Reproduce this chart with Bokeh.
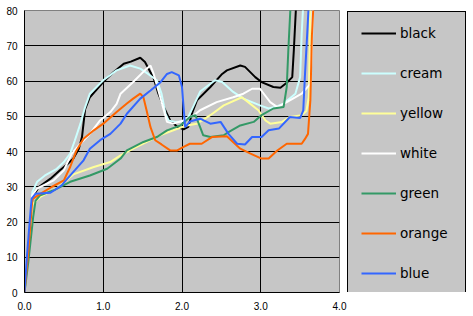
from bokeh.plotting import figure
from bokeh.layouts import row
from bokeh.models import Range1d, FixedTicker, PrintfTickFormatter, Legend, LegendItem
from bokeh.embed import file_html
from bokeh.resources import INLINE

# ---- data ----
black_x = [0, 0.05, 0.1, 0.18, 0.33, 0.45, 0.55, 0.62, 0.69, 0.73, 0.77, 0.83, 1.0, 1.13, 1.26, 1.35, 1.47, 1.53, 1.64, 1.70, 1.77, 1.85, 1.94, 2.02, 2.08, 2.13, 2.19, 2.36, 2.51, 2.57, 2.74, 2.80, 2.93, 3.01, 3.16, 3.25, 3.33, 3.40, 3.42, 3.45]
black_y = [0, 13, 27, 29.9, 32.3, 34.7, 36.5, 38, 40.8, 44.1, 52, 55.4, 59.7, 62.5, 64.9, 65.5, 66.6, 65.4, 60.8, 56.4, 52.6, 48.8, 47, 46.3, 47, 51, 54.5, 58.3, 62, 63, 64.4, 64, 61.1, 59.7, 58.3, 58.1, 59.5, 61.1, 68.7, 82]

cream_x = [0, 0.05, 0.1, 0.16, 0.26, 0.41, 0.50, 0.58, 0.64, 0.71, 0.77, 0.83, 1.0, 1.17, 1.34, 1.47, 1.57, 1.68, 1.74, 1.79, 1.83, 1.91, 2.0, 2.08, 2.15, 2.23, 2.42, 2.51, 2.65, 2.78, 2.99, 3.10, 3.18, 3.29, 3.44, 3.50, 3.52, 3.54]
cream_y = [0, 14, 28.5, 31.4, 33.2, 35.1, 37, 39.4, 43.2, 47.9, 52.6, 56.4, 60.2, 63, 64.4, 63.5, 62, 60.2, 56.4, 50.7, 48.8, 48.4, 48.5, 49.8, 53.1, 57, 60.2, 59.7, 56.9, 55, 53.1, 52.2, 52.6, 53.6, 56.4, 61.1, 73.4, 82]

yellow_x = [0, 0.05, 0.1, 0.2, 0.41, 0.62, 0.88, 1.09, 1.22, 1.40, 1.72, 2.06, 2.19, 2.36, 2.53, 2.76, 2.84, 2.97, 3.06, 3.12, 3.27, 3.37, 3.52, 3.58, 3.61, 3.62, 3.63]
yellow_y = [0, 12, 25, 27.1, 29.6, 33.5, 35.6, 37, 38.9, 41, 44.6, 47.4, 47.9, 50.3, 53.1, 55.4, 54, 51.7, 48.8, 47.9, 48.4, 49.8, 50.3, 51.5, 55.4, 68.7, 82]

white_x = [0, 0.05, 0.1, 0.16, 0.37, 0.5, 0.60, 0.71, 0.83, 0.96, 1.09, 1.17, 1.22, 1.38, 1.55, 1.60, 1.64, 1.70, 1.77, 1.81, 1.89, 2.02, 2.15, 2.23, 2.44, 2.65, 2.78, 2.89, 2.99, 3.12, 3.21, 3.33, 3.52, 3.63, 3.65, 3.66]
white_y = [0, 13, 27.6, 29.5, 31.8, 34.7, 39.4, 42.2, 45, 48.8, 51.2, 53.5, 56.4, 59.7, 63.5, 64.4, 62, 57.3, 51.7, 48.4, 47.9, 48.8, 50.3, 51.7, 54, 55.4, 56.4, 57.8, 57.8, 54, 52.6, 54, 56.4, 59.2, 70, 82]

green_x = [0, 0.05, 0.11, 0.14, 0.2, 0.37, 0.58, 0.83, 1.05, 1.22, 1.30, 1.51, 1.68, 1.81, 1.98, 2.10, 2.17, 2.23, 2.27, 2.36, 2.53, 2.59, 2.74, 2.91, 3.01, 3.16, 3.29, 3.33, 3.35, 3.38]
green_y = [0, 9, 21.4, 26, 27.6, 29, 31.4, 33.2, 35.1, 38, 40.3, 42.7, 44.1, 46, 47.4, 49.8, 50.3, 46.9, 44.6, 44.1, 44.6, 45.5, 47.4, 48.4, 50.3, 52.2, 52.6, 58.3, 68.7, 82]

orange_x = [0, 0.05, 0.1, 0.2, 0.35, 0.50, 0.58, 0.66, 0.75, 0.88, 1.0, 1.17, 1.30, 1.38, 1.47, 1.51, 1.55, 1.60, 1.66, 1.74, 1.85, 1.94, 2.02, 2.10, 2.25, 2.38, 2.57, 2.74, 2.87, 3.01, 3.10, 3.21, 3.33, 3.52, 3.56, 3.60, 3.63, 3.65, 3.67]
orange_y = [0, 12, 26.5, 28, 30, 31.8, 35.6, 40.3, 43.6, 46, 47.9, 51.2, 53.6, 55, 56.4, 55.4, 51.7, 46.9, 43.2, 42, 40.3, 40.3, 41.3, 42.2, 42.2, 44.1, 44.3, 40.8, 39.4, 38, 38, 40.3, 42.2, 42.2, 43.5, 45, 54.5, 73, 82]

blue_x = [0, 0.03, 0.07, 0.09, 0.14, 0.33, 0.47, 0.64, 0.75, 0.83, 0.96, 1.09, 1.22, 1.30, 1.47, 1.60, 1.72, 1.81, 1.87, 1.96, 2.0, 2.02, 2.04, 2.10, 2.23, 2.36, 2.49, 2.59, 2.70, 2.80, 2.89, 3.01, 3.10, 3.23, 3.37, 3.50, 3.54, 3.56, 3.59, 3.61]
blue_y = [0, 10, 21.4, 26.6, 28, 28.3, 30.4, 34.7, 37.5, 40.8, 43.2, 45, 47.9, 50.7, 55, 57.3, 59.5, 62, 62.5, 61.6, 58.3, 52.6, 46.9, 48.5, 49.3, 47.9, 48.4, 45, 42.2, 42, 44.1, 44.1, 46, 46.5, 49.8, 49.5, 51.7, 61.1, 73.4, 82]

series_names = ["black", "cream", "yellow", "white", "green", "orange", "blue"]
series_colors = ["#000000", "#CCFFFF", "#FFFF99", "#FFFFFF", "#339966", "#FF6600", "#3366FF"]
series_data = [(black_x, black_y), (cream_x, cream_y), (yellow_x, yellow_y), (white_x, white_y),
               (green_x, green_y), (orange_x, orange_y), (blue_x, blue_y)]

x_ticks = [0, 1, 2, 3, 4]
y_ticks = [0, 10, 20, 30, 40, 50, 60, 70, 80]

PLOT_BG = "#C6C6C6"

# ---- main chart ----
p = figure(width=347, height=316, output_backend="svg", toolbar_location=None,
           x_range=Range1d(0, 4), y_range=Range1d(0, 80),
           min_border_left=24, min_border_right=8, min_border_top=10, min_border_bottom=24)
p.background_fill_color = PLOT_BG
p.border_fill_color = "white"
p.outline_line_color = "#808080"
p.outline_line_width = 1

for ax in (p.xaxis[0], p.yaxis[0]):
    ax.axis_line_color = "black"
    ax.axis_line_width = 1
    ax.major_tick_out = 0
    ax.major_tick_in = 0
    ax.minor_tick_out = 0
    ax.minor_tick_in = 0
    ax.major_label_text_font = "Liberation Sans"
    ax.major_label_text_font_size = "10px"
    ax.major_label_text_color = "black"

p.xaxis.ticker = FixedTicker(ticks=x_ticks)
p.xaxis.formatter = PrintfTickFormatter(format="%.1f")
p.xaxis.major_label_standoff = 9
p.yaxis.ticker = FixedTicker(ticks=y_ticks)
p.yaxis.major_label_standoff = 7

p.xgrid.ticker = FixedTicker(ticks=x_ticks[1:-1])
p.ygrid.ticker = FixedTicker(ticks=y_ticks[1:-1])
for g in (p.xgrid[0], p.ygrid[0]):
    g.grid_line_color = "black"
    g.grid_line_width = 1
    g.grid_line_alpha = 1

for name, color, (xs, ys) in zip(series_names, series_colors, series_data):
    p.line(xs, ys, line_color=color, line_width=2)

# ---- legend panel (separate figure; its lines lie outside its ranges) ----
lg = figure(width=126, height=316, output_backend="svg", toolbar_location=None,
            x_range=Range1d(100, 101), y_range=Range1d(100, 101),
            min_border_left=0, min_border_right=0, min_border_top=0, min_border_bottom=0)
lg.axis.visible = False
lg.xgrid.visible = False
lg.ygrid.visible = False
lg.outline_line_color = None
lg.background_fill_color = "white"
lg.border_fill_color = "white"

items = []
for name, color, (xs, ys) in zip(series_names, series_colors, series_data):
    r = lg.line(xs, ys, line_color=color, line_width=2)
    items.append(LegendItem(label=name, renderers=[r]))

legend = Legend(items=items, location=(0, -3))
legend.background_fill_color = PLOT_BG
legend.background_fill_alpha = 1
legend.border_line_color = "black"
legend.border_line_width = 1
legend.border_line_alpha = 1
legend.padding = 13
legend.spacing = 24
legend.glyph_height = 16
legend.glyph_width = 35
legend.label_height = 16
legend.label_standoff = 4
legend.label_width = 52
legend.label_text_font = "DejaVu Sans"
legend.label_text_font_size = "13.5px"
legend.label_text_color = "black"
legend.margin = 0
lg.add_layout(legend, "center")

layout = row(p, lg, spacing=0)
open("out.html", "w").write(file_html(layout, INLINE))
